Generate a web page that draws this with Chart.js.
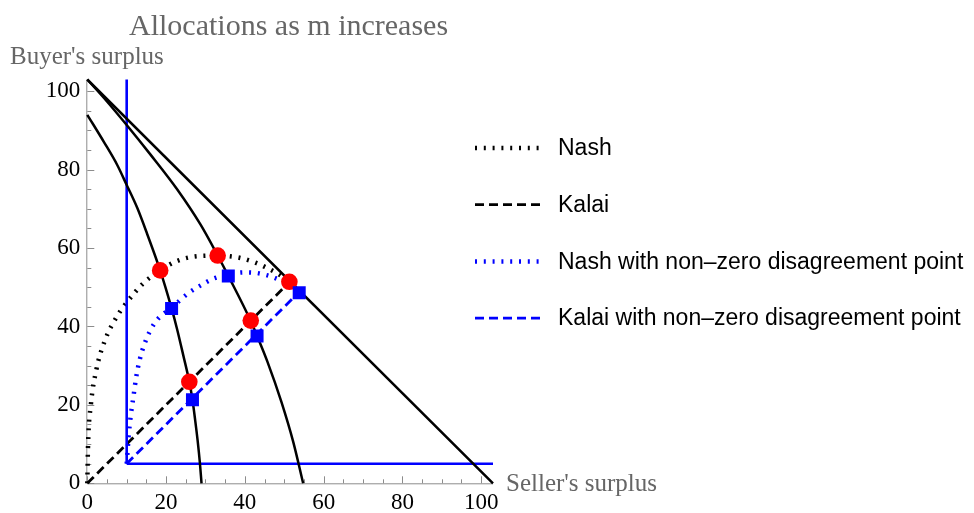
<!DOCTYPE html>
<html>
<head>
<meta charset="utf-8">
<script src="https://cdn.jsdelivr.net/npm/chart.js@4.4.0/dist/chart.umd.min.js"></script>
<style>
  html, body { margin: 0; padding: 0; background: #fff; }
</style>
</head>
<body>
<canvas id="chart" width="974" height="513"></canvas>
<script>
'use strict';

// ticks
var xTicks = [0, 20, 40, 60, 80, 100];
var yTicks = [0, 20, 40, 60, 80, 100];

// pareto frontiers
var frontX = [0, 103];
var frontY = [103, 0];
var midX = [0, 5, 10, 16, 22.8, 28.8, 33.1, 35.8, 41.5, 43.1, 45.7, 49.3, 52.3, 54.8];
var midY = [103, 97.4, 91.4, 83.9, 75.0, 65.9, 58.1, 52.9, 41.4, 37.6, 31.1, 20.7, 10.5, 0];
var lowX = [0, 4.2, 7.6, 10, 12.7, 15.2, 18.5, 21.4, 22.8, 24.4, 25.9, 26.7, 27.4, 28, 28.6, 29];
var lowY = [94, 87.1, 81.2, 76.1, 70.2, 63.6, 54.3, 44.6, 39.3, 32.5, 25.9, 21.3, 16, 11, 5, 0];

// disagreement point box
var dVertX = [10, 10];
var dVertY = [5, 103];
var dHorX = [10, 103];
var dHorY = [5, 5];

// solution paths
var nashX = [0, 0.2, 0.9, 2.3, 4.5, 7.5, 11.5, 14.5, 18.5, 22.3, 26.9, 33.1, 38.3, 42.1, 45.1, 48.5, 51.4];
var nashY = [0, 10, 20, 29, 36.5, 42.5, 48, 51.3, 54.3, 56.5, 57.8, 58.1, 57.6, 56.5, 55.2, 53.4, 51.4];
var kalaiX = [0, 51.4];
var kalaiY = [0, 51.4];
var nashDX = [10, 10.5, 11, 11.7, 12.4, 13.3, 14.5, 16, 18, 21.4, 25.8, 29, 32, 35.8, 39.6, 42.6, 45.5, 47.6, 50.5, 53.8];
var nashDY = [5, 12, 17, 22, 27, 31.5, 35.5, 39, 42, 44.8, 48.6, 50.6, 52.2, 53.2, 53.8, 53.7, 53.1, 52.4, 51, 48.8];
var kalaiDX = [10, 54];
var kalaiDY = [5, 49];

// solution points
var redX = [18.5, 33.1, 51.3, 41.5, 25.9];
var redY = [54.3, 58.1, 51.4, 41.5, 25.9];
var sqX = [21.4, 35.8, 53.8, 43.1, 26.7];
var sqY = [44.6, 52.9, 48.6, 37.6, 21.3];

function pts(xs, ys) {
  return xs.map(function (x, i) { return { x: x, y: ys[i] }; });
}

function lineSet(xs, ys, color, width, dash, label) {
  return {
    label: label,
    data: pts(xs, ys),
    showLine: true,
    borderColor: color,
    borderWidth: width,
    borderDash: dash || [],
    borderCapStyle: 'butt',
    pointRadius: 0,
    fill: false,
    cubicInterpolationMode: 'monotone',
    clip: false,
    order: 3
  };
}

var serif = '"Liberation Serif", "Times New Roman", serif';
var sans = '"Liberation Sans", Arial, sans-serif';

var datasets = [
  {
    data: pts(sqX, sqY), pointStyle: 'rect', pointRadius: 9.2,
    backgroundColor: '#0000ff', borderWidth: 0, showLine: false, order: 0
  },
  {
    data: pts(redX, redY), pointStyle: 'circle', pointRadius: 8.3,
    backgroundColor: '#ff0000', borderWidth: 0, showLine: false, order: 1
  },
  lineSet(frontX, frontY, '#000', 2.5),
  lineSet(midX, midY, '#000', 2.5),
  lineSet(lowX, lowY, '#000', 2.5),
  lineSet(dVertX, dVertY, '#0000ff', 2.6),
  lineSet(dHorX, dHorY, '#0000ff', 2.6),
  lineSet(nashX, nashY, '#000', 4.5, [2, 6.8], 'Nash'),
  lineSet(kalaiX, kalaiY, '#000', 2.8, [9, 5], 'Kalai'),
  lineSet(nashDX, nashDY, '#0000ff', 4.5, [2, 6.8], 'Nash with non\u2013zero disagreement point'),
  lineSet(kalaiDX, kalaiDY, '#0000ff', 2.8, [9, 5], 'Kalai with non\u2013zero disagreement point')
];

// axes drawn Mathematica style, ticks pointing inward
var axesPlugin = {
  id: 'axesPlugin',
  beforeDatasetsDraw: function (chart) {
    var ctx = chart.ctx;
    var xs = chart.scales.x, ys = chart.scales.y;
    var x0 = xs.getPixelForValue(0), y0 = ys.getPixelForValue(0);
    ctx.save();
    ctx.strokeStyle = '#8c8c8c';
    ctx.lineWidth = 1;
    ctx.beginPath();
    ctx.moveTo(x0, y0 + 0.5);
    ctx.lineTo(xs.getPixelForValue(103), y0 + 0.5);
    ctx.moveTo(x0 - 0.5, y0);
    ctx.lineTo(x0 - 0.5, ys.getPixelForValue(103));
    for (var v = 0; v <= 100; v += 5) {
      var len = v % 20 === 0 ? 7 : 4;
      var px = Math.round(xs.getPixelForValue(v)) + 0.5;
      ctx.moveTo(px, y0);
      ctx.lineTo(px, y0 - len);
      var py = Math.round(ys.getPixelForValue(v)) + 0.5;
      ctx.moveTo(x0, py);
      ctx.lineTo(x0 + len, py);
    }
    ctx.stroke();
    ctx.restore();
  },
  afterDraw: function (chart) {
    var ctx = chart.ctx;
    ctx.save();
    ctx.fillStyle = '#666';
    ctx.textAlign = 'left';
    ctx.textBaseline = 'alphabetic';
    ctx.font = '30px ' + serif;
    ctx.fillText('Allocations as m increases', 129, 35);
    ctx.font = '25px ' + serif;
    ctx.fillText("Buyer's surplus", 10, 64);
    ctx.fillText("Seller's surplus", 506, 491);

    // legend
    var rows = chart.data.datasets.filter(function (d) { return d.label; });
    ctx.font = '23px ' + sans;
    ctx.textBaseline = 'middle';
    rows.forEach(function (d, i) {
      var y = 148 + i * 56.7;
      ctx.strokeStyle = d.borderColor;
      ctx.lineWidth = d.borderWidth;
      ctx.setLineDash(d.borderDash);
      ctx.beginPath();
      ctx.moveTo(475, y);
      ctx.lineTo(541, y);
      ctx.stroke();
      ctx.setLineDash([]);
      ctx.fillStyle = '#000';
      ctx.fillText(d.label, 558, y + 1);
    });
    ctx.restore();
  }
};

new Chart(document.getElementById('chart'), {
  type: 'scatter',
  data: { datasets: datasets },
  options: {
    responsive: false,
    animation: false,
    layout: { padding: { top: 79.5, right: 481, left: 0, bottom: 0 } },
    plugins: { legend: { display: false }, tooltip: { enabled: false }, title: { display: false } },
    scales: {
      x: {
        type: 'linear', min: 0, max: 103,
        grid: { display: false, drawTicks: false },
        border: { display: false },
        ticks: { font: { family: serif, size: 23 }, color: '#000', padding: 6, maxRotation: 0 },
        afterBuildTicks: function (s) { s.ticks = xTicks.map(function (v) { return { value: v }; }); },
        afterFit: function (s) { s.height = 29.7; }
      },
      y: {
        type: 'linear', min: 0, max: 103,
        grid: { display: false, drawTicks: false },
        border: { display: false },
        ticks: { font: { family: serif, size: 23 }, color: '#000', padding: 7 },
        afterBuildTicks: function (s) { s.ticks = yTicks.map(function (v) { return { value: v }; }); },
        afterFit: function (s) { s.width = 87.3; }
      }
    }
  },
  plugins: [axesPlugin]
});
</script>
</body>
</html>
